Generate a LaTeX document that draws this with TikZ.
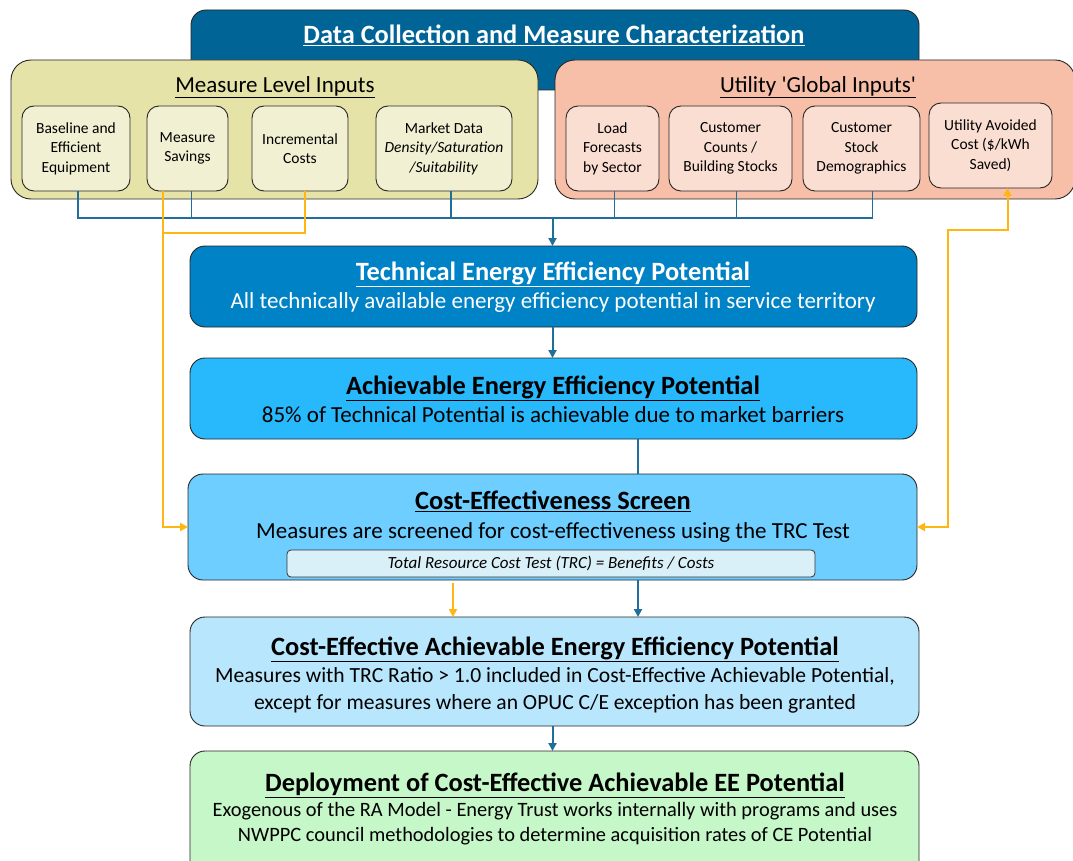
\documentclass[tikz,border=0pt]{standalone}
\usepackage{fontspec}
\setmainfont{Carlito}[Ligatures=TeXOff]
\usetikzlibrary{arrows.meta,calc}

\definecolor{dcblue}{RGB}{0,101,150}
\definecolor{techblue}{RGB}{0,130,198}
\definecolor{achblue}{RGB}{40,184,252}
\definecolor{costblue}{RGB}{110,206,255}
\definecolor{ceablue}{RGB}{184,230,252}
\definecolor{depgreen}{RGB}{198,247,200}
\definecolor{trcfill}{RGB}{218,240,248}
\definecolor{mlifill}{RGB}{230,227,169}
\definecolor{mliinner}{RGB}{242,240,210}
\definecolor{ugifill}{RGB}{247,190,168}
\definecolor{ugiinner}{RGB}{250,222,210}
\definecolor{linkblue}{RGB}{31,110,156}
\definecolor{linkorange}{RGB}{255,182,18}

\newcommand\fsz[2]{\fontsize{#1}{#2}\selectfont}

\begin{document}
\begin{tikzpicture}[x=1pt,y=-1pt,
  bigbox/.style={draw=black!85, line width=0.9pt, rounded corners=15pt,
    anchor=north west, inner sep=0pt, outer sep=0pt},
  smallbox/.style={draw=black!85, line width=0.9pt, rounded corners=12pt,
    inner sep=0pt, outer sep=0pt, align=center, font=\fsz{15.5}{19.5}},
  label/.style={anchor=base, inner sep=0pt},
  titlefont/.style={font=\fsz{26.4}{30}\bfseries},
  subfont/.style={font=\fsz{23}{27}},
  bus/.style={draw=linkblue, line width=1.6pt},
  busarrow/.style={draw=linkblue, line width=2pt,
    -{Triangle[length=8pt,width=8pt]}},
  feed/.style={draw=linkorange, line width=2pt},
  feedtip/.style={-{Triangle[length=8pt,width=8pt]}},
]
\useasboundingbox (0,0) rectangle (1073,861);

% header band behind the two input groups
\node[bigbox, fill=dcblue, minimum width=728pt, minimum height=80pt] (dc) at (191,10) {};
\node[label, text=white, titlefont] (dct) at (554,43.5)
  {\underline{Data Collection and Measure Characterization}};

% input groups
\node[bigbox, fill=mlifill, rounded corners=20pt, minimum width=527pt, minimum height=139pt] (mli) at (11,60) {};
\node[label, subfont] (mlit) at (275,92.5) {\underline{Measure\ Level\ Inputs}};
\node[bigbox, fill=ugifill, rounded corners=20pt, minimum width=520pt, minimum height=139pt] (ugi) at (555,60) {};
\node[label, subfont] (ugit) at (818,92.5) {\underline{Utility 'Global\ Inputs'}};

% measure level input items
\node[smallbox, fill=mliinner, minimum width=108pt, minimum height=85pt] (base) at (76,148.5)
  {Baseline and\\Efficient\\Equipment};
\node[smallbox, fill=mliinner, minimum width=81pt, minimum height=85pt] (sav) at (187.5,148.5)
  {Measure\\Savings};
\node[smallbox, fill=mliinner, minimum width=96pt, minimum height=85pt] (inc) at (300,148.5)
  {Incremental\\Costs};
\node[smallbox, fill=mliinner, minimum width=136pt, minimum height=85pt] (mkt) at (444,148.5)
  {Market Data\\\textit{Density/Saturation}\\\textit{/Suitability}};

% utility global input items
\node[smallbox, fill=ugiinner, minimum width=93pt, minimum height=85pt] (load) at (612.5,148.5)
  {Load\\Forecasts\\by Sector};
\node[smallbox, fill=ugiinner, minimum width=123pt, minimum height=85pt] (cnt) at (730.5,148.5)
  {Customer\\Counts /\\Building Stocks};
\node[smallbox, fill=ugiinner, minimum width=117pt, minimum height=85pt] (stk) at (861.5,148.5)
  {Customer\\Stock\\Demographics};
\node[smallbox, fill=ugiinner, minimum width=123pt, minimum height=85pt] (uac) at (990.5,145.5)
  {Utility Avoided\\Cost (\$/kWh\\Saved)};

% main flow
\node[bigbox, fill=techblue, minimum width=727pt, minimum height=81pt] (tech) at (190,246) {};
\node[label, text=white, titlefont] (techt) at (553,280.5)
  {\underline{Technical Energy Efficiency Potential}};
\node[label, text=white, subfont] (techs) at (553,308.5)
  {All technically available energy\ efficiency potential in service territory};

\node[bigbox, fill=achblue, minimum width=727pt, minimum height=81pt] (ach) at (190,358) {};
\node[label, titlefont] (acht) at (553,394.5)
  {\underline{Achievable Energy Efficiency Potential}};
\node[label, subfont] (achs) at (553,422.5)
  {85\% of Technical\ Potential is achievable\ due to market barriers};

\node[bigbox, fill=costblue, minimum width=729pt, minimum height=106pt] (cost) at (188,474) {};
\node[label, titlefont] (costt) at (553,509.5)
  {\underline{Cost-Effectiveness Screen}};
\node[label, subfont] (costs) at (553,538.5)
  {Measures\ are\ screened\ for cost-effectiveness\ using the TRC\ Test};
\node[draw=black!80, line width=0.8pt, fill=trcfill, rounded corners=4pt, inner sep=0pt,
  minimum width=528pt, minimum height=27pt, font=\fsz{17}{20}\itshape] (trc) at (551,563.5)
  {Total\ Resource\ Cost\ Test\ (TRC) = Benefits / Costs};

\node[bigbox, fill=ceablue, minimum width=729pt, minimum height=109pt] (cea) at (190,617) {};
\node[label, titlefont] (ceat) at (555,655.5)
  {\underline{Cost-Effective Achievable Energy Efficiency Potential}};
\node[label, font=\fsz{21.6}{25}] (cea1) at (555,682)
  {Measures with TRC Ratio > 1.0 included in Cost-Effective Achievable Potential,};
\node[label, font=\fsz{21.6}{25}] (cea2) at (555,709)
  {except for measures where an OPUC C/E exception has been granted};

\node[bigbox, fill=depgreen, minimum width=729pt, minimum height=125pt] (dep) at (190,751) {};
\node[label, titlefont] (dept) at (555,791.5)
  {\underline{Deployment of Cost-Effective Achievable EE Potential}};
\node[label, font=\fsz{20.4}{24}] (dep1) at (555,816.5)
  {Exogenous of the RA Model - Energy Trust works internally with programs and uses};
\node[label, font=\fsz{20.4}{24}] (dep2) at (555,841.5)
  {NWPPC council methodologies to determine\ acquisition rates of CE Potential};

% blue collector bus from the inputs into the technical potential
\coordinate (tc) at (638,0);
\coordinate (oc) at (453,0);
\draw[bus] ($(base.south)+(2,0)$) -- ++(0,27) -| ($(stk.south)+(11,0)$);
\draw[bus] ($(sav.south)+(4,0)$) -- ++(0,27);
\draw[bus] ($(mkt.south)+(7,0)$) -- ++(0,27);
\draw[bus] ($(load.south)+(2,0)$) -- ++(0,27);
\draw[bus] ($(cnt.south)+(6,0)$) -- ++(0,27);
\draw[busarrow] ($(tech.north)+(-1,-28)$) -- ($(tech.north)+(-1,0)$);

% flow between stages
\draw[busarrow] ($(tech.south)+(-1,0)$) -- ($(ach.north)+(-1,0)$);
\draw[bus] (ach.south -| tc) -- (cost.north -| tc);
\draw[busarrow] (cost.south -| tc) -- (cea.north -| tc);
\draw[feed, feedtip] ($(cost.south -| oc)+(0,3)$) -- (cea.north -| oc);
\draw[busarrow] ($(cea.south)+(-2,0)$) -- ($(dep.north)+(-2,0)$);

% orange feeds into the cost-effectiveness screen
\draw[feed] ($(sav.south)+(-25,0)$) -- ++(0,42) -| ($(inc.south)+(5,0)$);
\draw[feed, feedtip] ($(sav.south)+(-25,42)$) |- (cost.west);
\draw[feed, {Triangle[length=8pt,width=8pt]}-{Triangle[length=8pt,width=8pt]}]
  (cost.east) -- ++(31,0) |- ($(uac.south)+(17,42)$) -- ($(uac.south)+(17,0)$);
\end{tikzpicture}
\end{document}
